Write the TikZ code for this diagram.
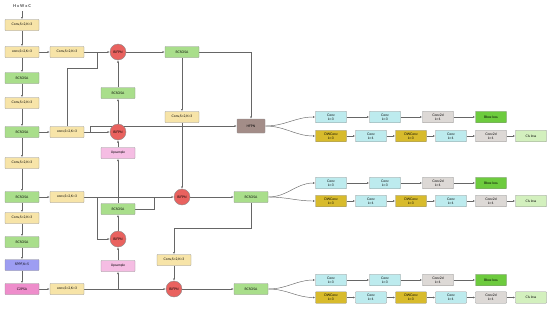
\documentclass[tikz,border=0pt]{standalone}
\usepackage{fontspec}
\setmainfont{Lato}
\usetikzlibrary{arrows.meta,backgrounds}
\definecolor{cyel}{HTML}{F7E4A8}
\definecolor{cgrn}{HTML}{A9DE8B}
\definecolor{cred}{HTML}{E9625F}
\definecolor{cpnk}{HTML}{F5BDE3}
\definecolor{cspp}{HTML}{9D9DF2}
\definecolor{cc2p}{HTML}{EE8DCB}
\definecolor{cbrn}{HTML}{A38D88}
\definecolor{ccyn}{HTML}{BDEBEE}
\definecolor{cdwc}{HTML}{D8BB2C}
\definecolor{cgry}{HTML}{DDD9D6}
\definecolor{cbbx}{HTML}{6DCB3E}
\definecolor{ccls}{HTML}{D3F0BE}
\begin{document}
\begin{tikzpicture}[x=1pt,y=-1pt,
  font=\fontsize{3.3}{3.9}\selectfont,
  box/.style={draw=black!45, line width=0.4pt, rounded corners=0.6pt, minimum width=34pt, minimum height=11pt, inner sep=0pt, align=center},
  yb/.style={box, fill=cyel},
  gb/.style={box, fill=cgrn},
  pb/.style={box, fill=cpnk},
  bif/.style={circle, draw=black!45, line width=0.4pt, fill=cred, minimum size=16pt, inner sep=0pt},
  hb/.style={box, minimum width=31pt, minimum height=11.5pt},
  hc/.style={hb, fill=ccyn},
  hdw/.style={hb, fill=cdwc},
  hg/.style={hb, fill=cgry},
  hbb/.style={hb, fill=cbbx},
  hcl/.style={hb, fill=ccls},
  arr/.style={draw=black!60, line width=0.45pt, -{Latex[length=2.3pt,width=1.9pt]}},
  ln/.style={draw=black!60, line width=0.45pt}]
\useasboundingbox (0,0) rectangle (550,309);
% column 1
\node[font=\fontsize{4}{4}\selectfont\bfseries, text=black!75] (in) at (22,6) {H x W x C};
\node[yb] (c1) at (22,25) {Conv,S=2,K=3};
\node[yb] (c2) at (22,52) {conv,S=2,K=3};
\node[gb] (c3) at (22,78) {RCSOSA};
\node[yb] (c4) at (22,103) {Conv,S=2,K=3};
\node[gb] (c5) at (22,132) {RCSOSA};
\node[yb] (c6) at (22,163) {Conv,S=2,K=3};
\node[gb] (c7) at (22,197) {RCSOSA};
\node[yb] (c8) at (22,218) {Conv,S=2,K=3};
\node[gb] (c9) at (22,242) {RCSOSA};
\node[box, fill=cspp] (c10) at (22,265) {SPPF,K=5};
\node[box, fill=cc2p] (c11) at (22,289) {C2PSA};
% column 2
\node[yb] (d1) at (67,52) {Conv,S=2,K=3};
\node[yb] (d2) at (67,132) {conv,S=2,K=3};
\node[yb] (d3) at (67,197) {conv,S=2,K=3};
\node[yb] (d4) at (67,289) {conv,S=2,K=3};
% column 3
\node[bif] (bf1) at (118,52) {BiFPN};
\node[gb] (r1) at (118,93) {RCSOSA};
\node[bif] (bf2) at (118,132) {BiFPN};
\node[pb] (u1) at (118,153) {Upsample};
\node[gb] (r2) at (118,209) {RCSOSA};
\node[bif] (bf3) at (118,239) {BiFPN};
\node[pb] (u2) at (118,266) {Upsample};
% column 4
\node[gb] (r3) at (182,52) {RCSOSA};
\node[yb] (e1) at (182,117) {Conv,S=2,K=3};
\node[bif] (bf4) at (182,197) {BiFPN};
\node[yb] (e2) at (174,260) {Conv,S=2,K=3};
\node[bif] (bf5) at (174,289) {BiFPN};
% column 5
\node[box, fill=cbrn, minimum width=28pt, minimum height=14pt] (hf) at (251,126) {HFPN};
\node[gb] (r4) at (251,197) {RCSOSA};
\node[gb] (r5) at (251,289) {RCSOSA};
% heads
\foreach \r/\yt/\yb in {1/117/136,2/183/201,3/280/297.5}{
  \node[hc] (ha\r) at (331,\yt) {Conv\\k=3};
  \node[hc] (hb\r) at (385,\yt) {Conv\\k=3};
  \node[hg] (hc\r) at (438,\yt) {Conv2d\\k=1};
  \node[hbb] (hd\r) at (491,\yt) {Bbox loss};
  \node[hdw] (he\r) at (331,\yb) {DWConv\\k=3};
  \node[hc] (hf\r) at (371,\yb) {Conv\\k=1};
  \node[hdw] (hg\r) at (411,\yb) {DWConv\\k=3};
  \node[hc] (hk\r) at (451,\yb) {Conv\\k=1};
  \node[hg] (hm\r) at (491,\yb) {Conv2d\\k=1};
  \node[hcl] (hn\r) at (531,\yb) {Cls loss};
}
% junction coordinates
\coordinate (j1) at (97,68);
\coordinate (j1b) at (97,52);
\coordinate (j2) at (90,132);
\coordinate (j3) at (97,197);
\coordinate (j4) at (154,197);
\coordinate (j5) at (118,289);
\coordinate (k1) at (174,228);
\begin{pgfonlayer}{background}
\draw[arr] (in) -- (c1);
\foreach \a/\b in {c1/c2,c2/c3,c3/c4,c4/c5,c5/c6,c6/c7,c7/c8,c8/c9,c9/c10,c10/c11}
  \draw[arr] (\a) -- (\b);
\draw[arr] (c2) -- (d1);
\draw[arr] (c5) -- (d2);
\draw[arr] (c7) -- (d3);
\draw[arr] (c11) -- (d4);
\draw[arr] (d1) -- (bf1);
\draw[ln] (d2.north) |- (j1) -- (j1b);
\draw[arr] (d2) -- (bf2);
\draw[arr] (j2) |- (hf.west);
\draw[arr] (r1) -- (bf1);
\draw[arr] (bf2) -- (r1);
\draw[arr] (u1) -- (bf2);
\draw[arr] (r2) -- (u1);
\draw[arr] (bf3) -- (r2);
\draw[arr] (u2) -- (bf3);
\draw[arr] (j5) -- (u2);
\draw[arr] (d3) -- (bf4);
\draw[arr] (j3) |- (bf3.west);
\draw[ln] (r2.east) -| (j4);
\draw[arr] (bf1) -- (r3);
\draw[arr] (r3) -- (e1);
\draw[arr] (e1) -- (bf4);
\draw[arr] (r3.east) -| (hf.north);
\draw[arr] (bf4) -- (r4);
\draw[arr] (r4.south) |- (k1) -- (e2.north);
\draw[arr] (e2) -- (bf5);
\draw[arr] (d4) -- (bf5);
\draw[arr] (bf5) -- (r5);
\foreach \r/\src in {1/hf,2/r4,3/r5}{
  \draw[arr] (\src.east) to[out=0,in=180] (ha\r.west);
  \draw[arr] (\src.east) to[out=0,in=180] (he\r.west);
  \draw[arr] (ha\r) -- (hb\r);
  \draw[arr] (hb\r) -- (hc\r);
  \draw[arr] (hc\r) -- (hd\r);
  \draw[arr] (he\r) -- (hf\r);
  \draw[arr] (hf\r) -- (hg\r);
  \draw[arr] (hg\r) -- (hk\r);
  \draw[arr] (hk\r) -- (hm\r);
  \draw[arr] (hm\r) -- (hn\r);
}
\end{pgfonlayer}
\end{tikzpicture}
\end{document}
